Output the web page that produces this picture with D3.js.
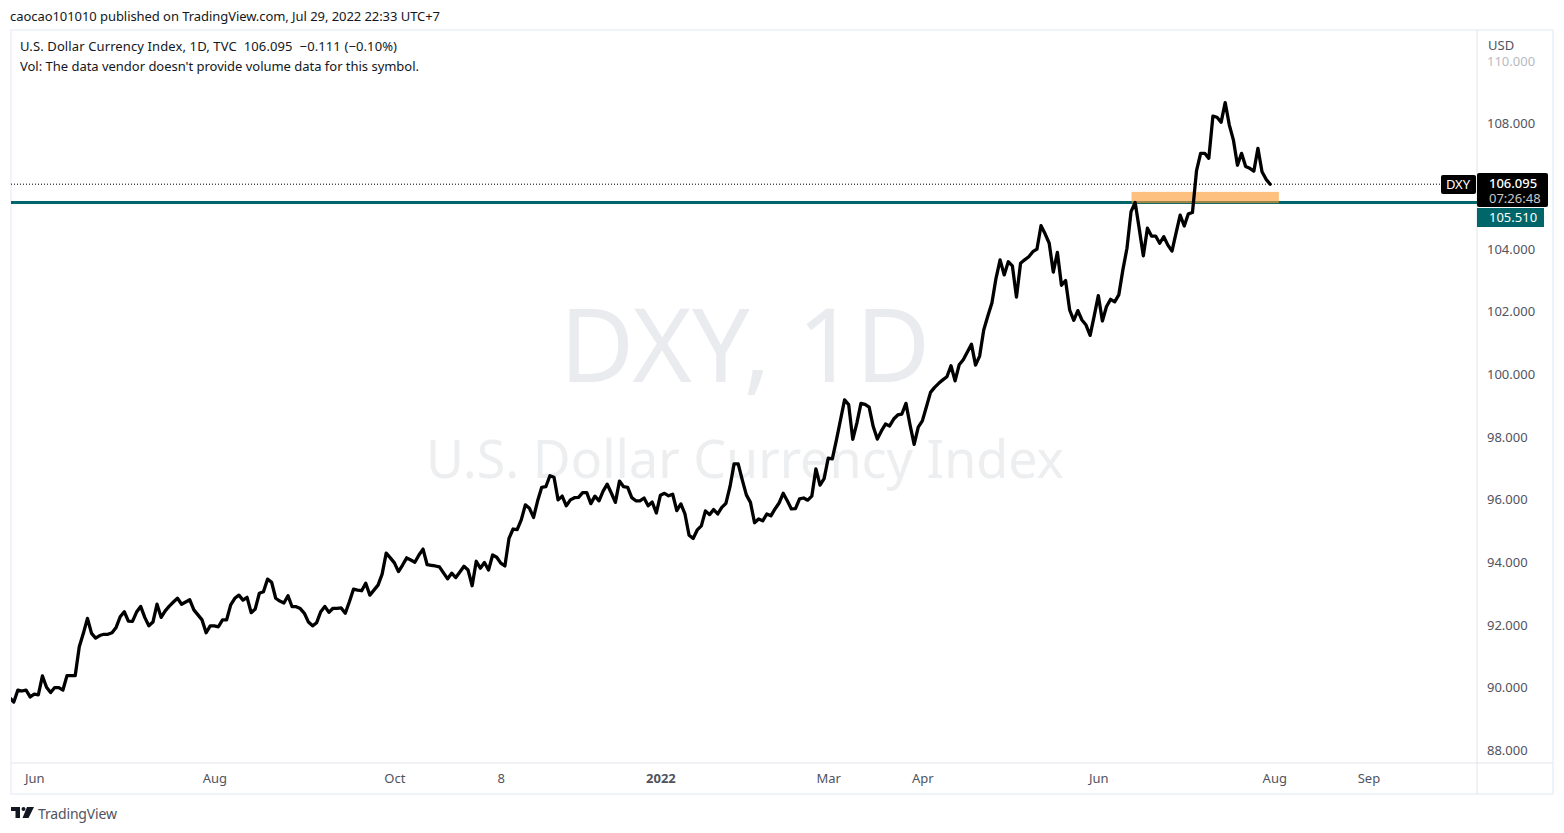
<!DOCTYPE html>
<html>
<head>
<meta charset="utf-8">
<script src="https://d3js.org/d3.v7.min.js"></script>
<style>
	html, body { margin: 0; padding: 0; background: #fff; }
	svg { display: block; }
	text { font-family: 'Noto Sans', sans-serif; }
</style>
</head>
<body>
<div id="my_dataviz"></div>
<script>
// daily closes, one per bar
var closes = [
	89.70,89.57,89.95,89.92,89.95,89.73,89.82,89.80,90.40,90.04,
	89.87,90.03,90.03,89.95,90.41,90.41,90.41,91.33,91.76,92.24,
	91.76,91.61,91.69,91.73,91.73,91.78,91.95,92.29,92.45,92.15,
	92.14,92.44,92.62,92.27,92.00,92.12,92.69,92.27,92.48,92.63,
	92.76,92.88,92.69,92.76,92.83,92.51,92.35,92.19,91.78,92.00,
	92.00,91.97,92.19,92.19,92.67,92.88,92.98,92.82,92.91,92.42,
	92.54,93.04,93.09,93.49,93.39,92.88,92.79,92.73,92.96,92.61,
	92.61,92.55,92.40,92.12,92.00,92.10,92.45,92.62,92.43,92.56,
	92.56,92.57,92.40,92.77,93.17,93.14,93.12,93.36,92.98,93.14,
	93.30,93.65,94.32,94.17,94.01,93.73,93.94,94.17,94.10,94.03,
	94.26,94.45,93.95,93.93,93.91,93.88,93.69,93.50,93.68,93.54,
	93.72,93.90,93.78,93.28,94.06,93.84,94.02,93.78,94.26,94.19,
	94.00,93.91,94.79,95.09,95.07,95.38,95.86,95.75,95.46,95.99,
	96.42,96.44,96.79,96.74,96.02,96.14,95.83,96.02,96.09,96.10,
	96.25,96.25,95.90,96.14,95.99,96.30,96.52,96.24,95.94,96.62,
	96.44,96.42,96.09,95.99,95.99,96.08,95.83,95.95,95.60,96.17,
	96.23,96.15,96.20,95.68,95.89,95.57,94.89,94.79,95.06,95.19,
	95.67,95.55,95.71,95.57,95.78,95.91,96.44,97.17,97.17,96.66,
	96.18,95.94,95.29,95.41,95.35,95.57,95.51,95.73,95.92,96.23,
	95.99,95.73,95.74,96.05,96.08,96.01,96.14,97.01,96.49,96.70,
	97.35,97.33,97.93,98.57,99.21,99.06,97.95,98.47,99.10,99.07,
	98.98,98.36,97.96,98.22,98.44,98.38,98.60,98.73,98.76,99.10,
	98.41,97.79,98.34,98.54,98.99,99.45,99.61,99.74,99.85,99.95,
	100.30,99.82,100.33,100.49,100.74,100.99,100.32,100.61,101.44,101.89,
	102.30,103.09,103.68,103.20,103.62,103.49,102.49,103.57,103.68,103.78,
	103.94,104.02,104.77,104.51,104.21,103.29,103.92,102.87,103.02,102.08,
	101.75,102.06,101.76,101.60,101.27,101.89,102.54,101.73,102.19,102.42,
	102.34,102.56,103.36,104.05,105.22,105.51,104.67,103.81,104.69,104.44,
	104.44,104.21,104.42,104.15,103.96,104.54,105.11,104.76,105.15,105.19,
	106.53,107.08,107.08,106.92,108.27,108.23,108.07,108.70,107.99,107.51,
	106.70,107.08,106.66,106.60,106.51,107.24,106.49,106.25,106.095
];
var priceTicks = [88, 90, 92, 94, 96, 98, 100, 102, 104, 108];
var fadedTick = 110;
var timeTickBars = [6, 50, 94, 120, 159, 200, 223, 266, 309, 332];
var timeTickLabels = ["Jun", "Aug", "Oct", "8", "2022", "Mar", "Apr", "Jun", "Aug", "Sep"];
var lastPrice = 106.095;
var levelPrice = 105.51;
var zoneBars = [274, 310];
var zonePrices = [105.49, 105.85];

var width = 1564, height = 833;
var pane = { left: 11, right: 1477, top: 30, bottom: 763 };
var frameBottom = 794, frameRight = 1553;

var x = d3.scaleLinear().domain([0, 308]).range([9.7, 1270.2]);
var y = d3.scaleLinear().domain([90, 108]).range([688.5, 124.5]);

var svg = d3.select("#my_dataviz")
	.append("svg")
	.attr("width", width)
	.attr("height", height);

svg.append("defs").append("clipPath").attr("id", "pane")
	.append("rect")
	.attr("x", pane.left).attr("y", pane.top)
	.attr("width", pane.right - pane.left).attr("height", pane.bottom - pane.top);

// frame
svg.append("rect")
	.attr("x", 11).attr("y", 30)
	.attr("width", frameRight - 11).attr("height", frameBottom - 30)
	.attr("fill", "none").attr("stroke", "#f0f3fa").attr("stroke-width", 2);
svg.append("line")
	.attr("x1", pane.right).attr("x2", pane.right).attr("y1", 30).attr("y2", frameBottom)
	.attr("stroke", "#e0e3eb");
svg.append("line")
	.attr("x1", 11).attr("x2", frameRight).attr("y1", pane.bottom).attr("y2", pane.bottom)
	.attr("stroke", "#e0e3eb");

// watermark
svg.append("text")
	.attr("x", 745).attr("y", 382)
	.attr("text-anchor", "middle")
	.attr("font-size", 102)
	.attr("fill", "#e9ebee")
	.text("DXY, 1D");
svg.append("text")
	.attr("x", 745).attr("y", 478)
	.attr("text-anchor", "middle")
	.attr("font-size", 52)
	.attr("fill", "#eceef0")
	.text("U.S. Dollar Currency Index");

var plot = svg.append("g").attr("clip-path", "url(#pane)");

// last price dotted line
plot.append("line")
	.attr("x1", pane.left).attr("x2", 1441)
	.attr("y1", y(lastPrice)).attr("y2", y(lastPrice))
	.attr("stroke", "#000").attr("stroke-width", 1)
	.attr("stroke-dasharray", "1 2");

// horizontal level
plot.append("line")
	.attr("x1", pane.left).attr("x2", pane.right)
	.attr("y1", y(levelPrice)).attr("y2", y(levelPrice))
	.attr("stroke", "#00666a").attr("stroke-width", 3);

// orange zone
plot.append("rect")
	.attr("x", x(zoneBars[0]) + 0.5).attr("width", x(zoneBars[1]) - x(zoneBars[0]))
	.attr("y", y(zonePrices[1])).attr("height", y(zonePrices[0]) - y(zonePrices[1]))
	.attr("fill", "#fb9a2e").attr("fill-opacity", 0.62);

// price line
var line = d3.line()
	.x(function (d, i) { return x(i); })
	.y(function (d) { return y(d); });
plot.append("path")
	.datum(closes)
	.attr("d", line)
	.attr("fill", "none")
	.attr("stroke", "#000")
	.attr("stroke-width", 3.3)
	.attr("stroke-linejoin", "round")
	.attr("stroke-linecap", "round");

// price axis
var axisY = svg.append("g")
	.attr("transform", "translate(" + pane.right + ",-1)")
	.call(d3.axisRight(y).tickValues(priceTicks.concat([fadedTick])).tickSize(0).tickPadding(10)
		.tickFormat(d3.format(".3f")));
axisY.select(".domain").remove();
axisY.selectAll("text")
	.attr("font-size", 13)
	.attr("font-family", "'Noto Sans', sans-serif")
	.attr("fill", function (d) { return d === fadedTick ? "#b8bac0" : "#50535e"; });

svg.append("text").attr("x", 1488).attr("y", 50)
	.attr("font-size", 13).attr("fill", "#50535e").text("USD");

// time axis
var axisX = svg.append("g")
	.attr("transform", "translate(0," + (pane.bottom + 2) + ")")
	.call(d3.axisBottom(x).tickValues(timeTickBars).tickSize(0).tickPadding(9)
		.tickFormat(function (d, i) { return timeTickLabels[i]; }));
axisX.select(".domain").remove();
axisX.selectAll("text")
	.attr("font-size", 13)
	.attr("font-family", "'Noto Sans', sans-serif")
	.attr("fill", "#50535e")
	.attr("font-weight", function (d, i) { return timeTickLabels[i] === "2022" ? "bold" : "normal"; });

// labels on the price scale
svg.append("rect").attr("x", 1441).attr("y", 175).attr("width", 35).attr("height", 19)
	.attr("rx", 2).attr("fill", "#000");
svg.append("text").attr("x", 1458).attr("y", 189).attr("text-anchor", "middle")
	.attr("font-size", 13).attr("fill", "#fff").text("DXY");

svg.append("rect").attr("x", 1477).attr("y", 173).attr("width", 71).attr("height", 34)
	.attr("rx", 2).attr("fill", "#000");
svg.append("text").attr("x", 1489).attr("y", 188)
	.attr("font-size", 13).attr("fill", "#fff").attr("font-weight", 500).text("106.095");
svg.append("text").attr("x", 1489).attr("y", 203)
	.attr("font-size", 13).attr("fill", "#c8c8c8").text("07:26:48");

svg.append("rect").attr("x", 1477).attr("y", 208).attr("width", 67).attr("height", 19)
	.attr("fill", "#00666a");
svg.append("text").attr("x", 1489).attr("y", 222)
	.attr("font-size", 13).attr("fill", "#fff").text("105.510");

// header text
svg.append("text").attr("x", 10).attr("y", 21)
	.attr("font-size", 13).attr("fill", "#131722")
	.attr("textLength", 430)
	.text("caocao101010 published on TradingView.com, Jul 29, 2022 22:33 UTC+7");
svg.append("text").attr("x", 20).attr("y", 51)
	.attr("font-size", 13).attr("fill", "#131722").attr("xml:space", "preserve")
	.attr("textLength", 377)
	.text("U.S. Dollar Currency Index, 1D, TVC  106.095  \u22120.111 (\u22120.10%)");
svg.append("text").attr("x", 20).attr("y", 71)
	.attr("font-size", 13).attr("fill", "#131722")
	.attr("textLength", 399)
	.text("Vol: The data vendor doesn't provide volume data for this symbol.");

// TradingView logo and name
var logo = svg.append("g").attr("transform", "translate(11,807)").attr("fill", "#131722");
logo.append("path").attr("d", "M0 0H9V11H4.5V4H0Z");
logo.append("circle").attr("cx", 12.5).attr("cy", 2).attr("r", 2);
logo.append("path").attr("d", "M16 0H23L17.5 11H11.5Z");
svg.append("text").attr("x", 38).attr("y", 818.5)
	.attr("font-size", 14).attr("fill", "#50535e").attr("textLength", 79).text("TradingView");
</script>
</body>
</html>
